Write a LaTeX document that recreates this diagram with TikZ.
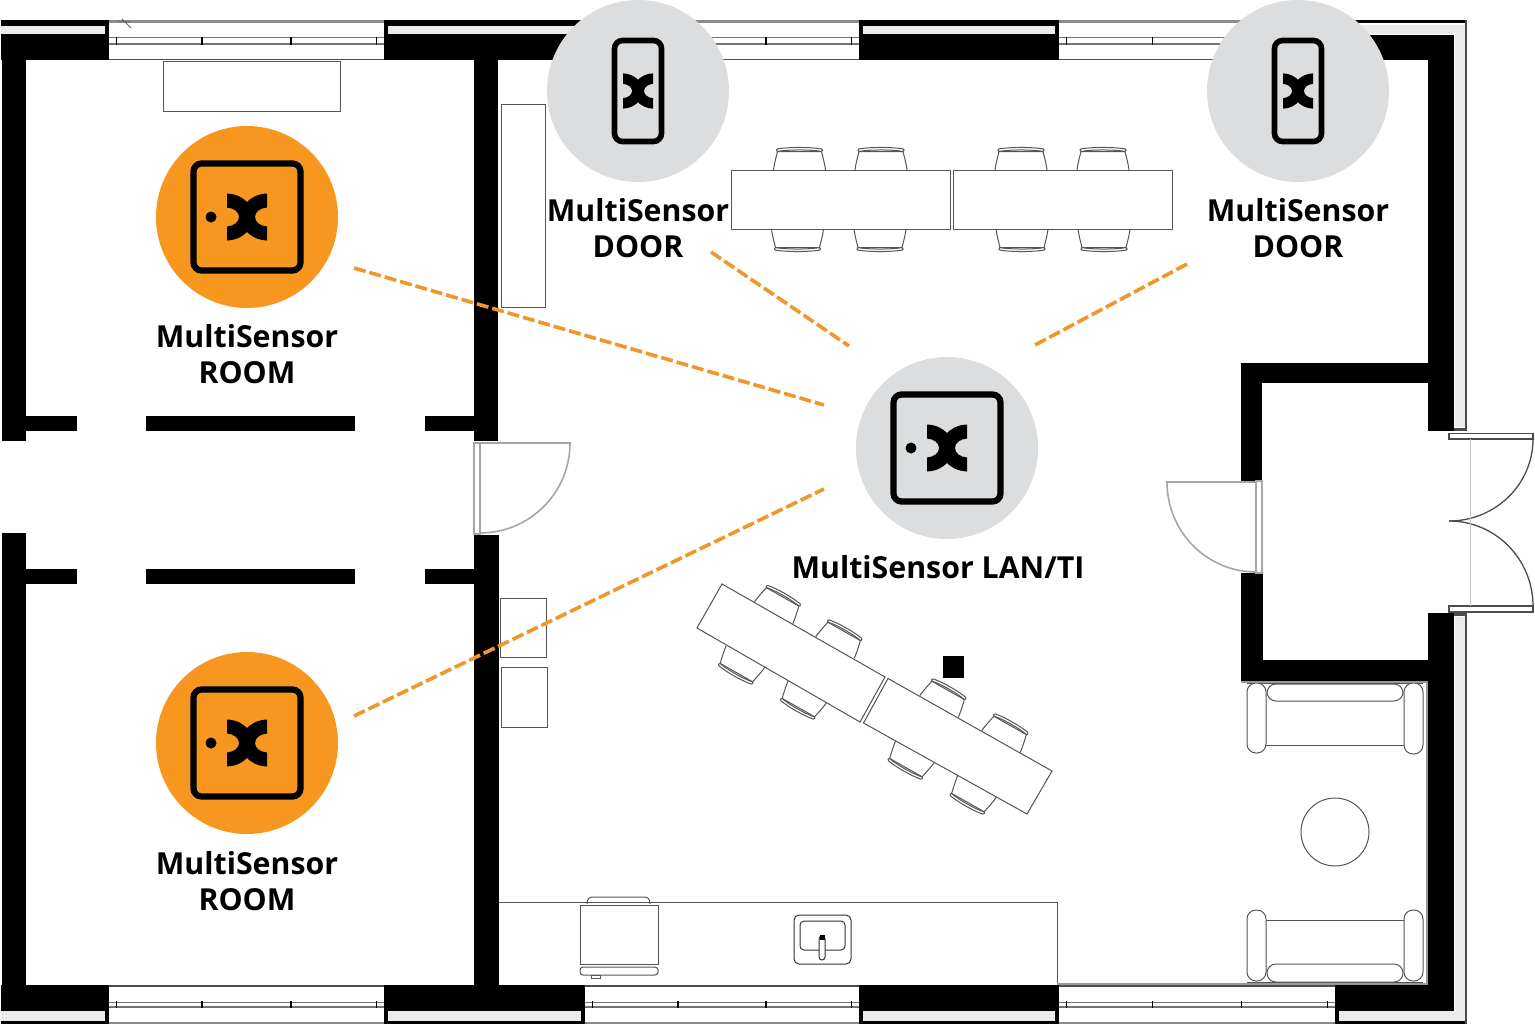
\documentclass[tikz,border=0pt]{standalone}
\usepackage{fontspec}
\setmainfont{Open Sans}
\definecolor{orangeC}{HTML}{F8971F}
\definecolor{dashC}{HTML}{F0962B}
\definecolor{greyC}{HTML}{DCDDDE}
\definecolor{stripC}{HTML}{EBEBEB}
\definecolor{furnC}{HTML}{555555}
\tikzset{
  wall/.style={fill=black,draw=none},
  strip/.style={fill=stripC,draw=none},
  furn/.style={draw=furnC,line width=1pt},
  doorline/.style={draw=black!35,line width=1.6pt},
  darkdoor/.style={draw=black!70,line width=1.3pt},
  link/.style={draw=dashC,line width=3.6pt,dash pattern=on 12pt off 4pt},
  lab/.style={font=\fontsize{30.3}{36}\selectfont\bfseries,align=center,inner sep=0pt,text=black},
  bubble/.style={circle,minimum size=182pt,inner sep=0pt,draw=none},
  logo/.pic={\fill[black] (-20,-23.5) .. controls (-10,-23) and (-4,-19) .. (0,-15) .. controls (4,-19) and (10,-23) .. (20,-23.5) -- (20,-9.5) .. controls (13,-9) and (8,-5) .. (8,0) .. controls (8,5) and (13,9) .. (20,9.5) -- (20,23.5) .. controls (10,23) and (4,19) .. (0,15) .. controls (-4,19) and (-10,23) .. (-20,23.5) -- (-20,9.5) .. controls (-13,9) and (-8,5) .. (-8,0) .. controls (-8,-5) and (-13,-9) .. (-20,-9.5) -- cycle;},
  squareicon/.pic={\draw[black,line width=6.2pt,rounded corners=8pt] (-53.5,-53.5) rectangle (53.5,53.5);
    \fill[black] (-36,0) circle (5.5);
    \pic at (0,0) {logo};},
  phoneicon/.pic={\draw[black,line width=5.6pt,rounded corners=8pt] (-23.5,-50.5) rectangle (23.5,50.5);
    \pic[scale=.75] at (0,0) {logo};},
  chair/.pic={
    \draw[furn,fill=white] (-26,0) .. controls (-25,-8) and (-23,-14) .. (-22,-18.5) -- (22,-18.5) .. controls (23,-14) and (25,-8) .. (26,0);
    \draw[furn,fill=white,rounded corners=1pt] (-23,-18.5) .. controls (-10,-20.5) and (10,-20.5) .. (23,-18.5) -- (23,-21) .. controls (10,-23) and (-10,-23) .. (-23,-21) -- cycle;},
  armrest/.style={furn,fill=white,rounded corners=9pt},
}
\newcommand{\topwin}[2]{%
  \fill[black!45] (#1,20) rectangle (#2,23);
  \fill[black!55] (#1,36.5) rectangle (#2,38);
  \fill[black!55] (#1,43) rectangle (#2,44.5);
  \fill[black!70] (#1,58.5) rectangle (#2,60);
  \fill[black] (#1-1.5,20) rectangle (#1+1,60);
  \fill[black] (#2-1,20) rectangle (#2+1.5,60);
  \foreach \t in {.03,.34,.66,.97} \fill[black] ({#1+\t*(#2-#1)-.7},37) rectangle ({#1+\t*(#2-#1)+.7},45);
}
\newcommand{\botwin}[2]{%
  \fill[black!70] (#1,985) rectangle (#2,987);
  \fill[black!55] (#1,1001.5) rectangle (#2,1003);
  \fill[black!55] (#1,1006) rectangle (#2,1007.5);
  \fill[black!45] (#1,1022) rectangle (#2,1024);
  \fill[black] (#1-1.5,985) rectangle (#1+1,1024);
  \fill[black] (#2-1,985) rectangle (#2+1.5,1024);
  \foreach \t in {.03,.34,.66,.97} \fill[black] ({#1+\t*(#2-#1)-.7},1001) rectangle ({#1+\t*(#2-#1)+.7},1008);
}
\begin{document}
\begin{tikzpicture}[x=1pt,y=-1pt]
\useasboundingbox (0,0) rectangle (1535,1028);
\fill[white] (0,0) rectangle (1535,1028);
% windows
\topwin{108}{385}\topwin{584}{860}\topwin{1058}{1336}
\botwin{108}{385}\botwin{584}{860}\botwin{1058}{1336}
\draw[black!60,line width=.8pt] (117,21) -- (130,22) (122,19) -- (131,28);
% top wall segments
\foreach \a/\b/\c in {1/108/1,385/584/388,860/1058/863}{
  \fill[wall] (\a,20) rectangle (\b,60);
  \fill[strip] (\c,26) rectangle (\b-3,34);
}
\fill[wall] (1336,20) rectangle (1467,23);
\fill[wall] (1336,35) rectangle (1454,60);
\fill[strip] (1338,25) rectangle (1465,34);
% bottom wall segments
\foreach \a/\b/\c in {1/108/1,385/584/388,860/1058/863}{
  \fill[wall] (\a,985) rectangle (\b,1024);
  \fill[strip] (\c,1011) rectangle (\b-3,1021);
}
\fill[wall] (1336,985) rectangle (1454,1011);
\fill[wall] (1336,985) rectangle (1339,1024);
\fill[wall] (1336,1021) rectangle (1467,1024);
\fill[strip] (1339,1011) rectangle (1465,1021);
% left wall
\fill[wall] (2,60) rectangle (26,441);
\fill[wall] (2,533) rectangle (26,985);
% interior wall
\fill[wall] (474,60) rectangle (498,441);
\fill[wall] (474,535) rectangle (499,985);
% partitions
\foreach \y in {416,569}{
  \fill[wall] (26,\y) rectangle (77,\y+15);
  \fill[wall] (146,\y) rectangle (355,\y+15);
  \fill[wall] (425,\y) rectangle (474,\y+15);
}
% right wall
\fill[wall] (1428,60) rectangle (1454,431);
\fill[wall] (1428,613) rectangle (1454,1011);
\fill[strip] (1455,34) rectangle (1465,427);
\fill[strip] (1455,617) rectangle (1465,1021);
\fill[black!70] (1465,20) rectangle (1467,431);
\fill[black!70] (1454,428) rectangle (1467,431);
\fill[black!70] (1454,613) rectangle (1467,616);
\fill[black!70] (1465,613) rectangle (1467,1024);
% small room
\fill[wall] (1241,363) rectangle (1428,383);
\fill[wall] (1241,363) rectangle (1262,481);
\fill[wall] (1241,573) rectangle (1263,682);
\fill[wall] (1241,660) rectangle (1428,682);
% doors
\draw[doorline] (474,443) rectangle (480,534);
\draw[doorline] (480,443) -- (570,443) arc[start angle=0,end angle=-90,x radius=90,y radius=-90];
\draw[doorline] (1256,481) rectangle (1262,573);
\draw[doorline] (1256,482) -- (1167,482) arc[start angle=180,end angle=270,x radius=89,y radius=-90];
\draw[darkdoor] (1449,433.5) rectangle (1533,439);
\draw[darkdoor] (1449,606) rectangle (1533,612);
\draw[darkdoor] (1533,439) arc[start angle=0,end angle=-90,x radius=84,y radius=-82];
\draw[darkdoor] (1533,606) arc[start angle=0,end angle=90,x radius=84,y radius=-85];
\draw[black!20,line width=.8pt] (1470,439) -- (1470,606);
% simple furniture
\draw[furn] (163,61) rectangle (340,111);
\draw[furn] (501,104) rectangle (545,307);
\draw[furn] (500,598) rectangle (546,657);
\draw[furn] (501,667) rectangle (547,727);
\fill[black] (943,656) rectangle (964,678);
% kitchen
\draw[furn] (499,902) -- (1057,902) -- (1057,984);
\draw[furn] (587,904) .. controls (587,899) and (589,897) .. (593,897) -- (644,897) .. controls (648,897) and (650,899) .. (650,904);
\draw[furn] (580,905) rectangle (658,964);
\draw[furn,rounded corners=3pt] (580,967) -- (580,975) -- (658,975) -- (658,967) -- cycle;
\draw[furn] (591,975) rectangle (600,978);
\draw[black!80,line width=1pt,rounded corners=5pt] (794,915) rectangle (851,964);
\draw[black!80,line width=1pt,rounded corners=4pt] (800,921) rectangle (845,950);
\draw[black!80,line width=1pt,rounded corners=3pt,fill=white] (819,936) rectangle (825,960);
\fill[black] (819.5,935) rectangle (824.5,940);
% dining table (straight)
\foreach \x in {799.5,881,1021,1103} \pic at (\x,170) {chair};
\foreach \x in {797.5,880,1022,1104} \pic[rotate=180] at (\x,229) {chair};
\draw[furn,fill=white] (731,170) rectangle (950,229);
\draw[furn,fill=white] (953,170) rectangle (1172,229);
% dining table (angled)
\foreach \x/\y in {773.5/613,835/647.5,939/706.5,1001/741.5} \pic[rotate=-29.5,xscale=.85] at (\x,\y) {chair};
\foreach \x/\y in {745.5/656.5,807.5/691.5,915/751.5,977/786.5} \pic[rotate=150.5,xscale=.85] at (\x,\y) {chair};
\draw[furn,fill=white] (722,584) -- (885,677) -- (860,722) -- (697,628) -- cycle;
\draw[furn,fill=white] (888,678.5) -- (1052,771) -- (1027,814) -- (863.5,723) -- cycle;
% sofas
\draw[furn] (1247,683) -- (1423,683);
\draw[furn] (1266,745) -- (1404,745);
\draw[armrest] (1247,683) rectangle (1266,753);
\draw[armrest] (1404,683) rectangle (1423,754);
\draw[armrest] (1267,684) rectangle (1403,701);
\draw[furn] (1247,982) -- (1423,982);
\draw[furn] (1266,920) -- (1404,920);
\draw[armrest] (1247,910) rectangle (1266,981);
\draw[armrest] (1404,910) rectangle (1423,981);
\draw[armrest] (1267,964) rectangle (1403,982);
\draw[furn] (1335,832) circle (34);
\draw[black!40,line width=1.2pt] (1241,682) -- (1427,682) -- (1427,984) -- (1057,984);
% sensors
\node[bubble,fill=greyC] (doorA) at (638,91) {};
\node[bubble,fill=greyC] (doorB) at (1298,91) {};
\node[bubble,fill=greyC] (hub) at (947,448) {};
\node[bubble,fill=orangeC] (roomA) at (247,217) {};
\node[bubble,fill=orangeC] (roomB) at (247,743) {};
\pic at (roomA.center) {squareicon};
\pic at (roomB.center) {squareicon};
\pic at (hub.center) {squareicon};
\pic at (doorA.center) {phoneicon};
\pic at (doorB.center) {phoneicon};
% labels
\node[lab] (roomAlab) at (247,354) {MultiSensor\\ROOM};
\node[lab] (roomBlab) at (247,881) {MultiSensor\\ROOM};
\node[lab] (doorAlab) at (638,228) {MultiSensor\\DOOR};
\node[lab] (doorBlab) at (1298,228) {MultiSensor\\DOOR};
\node[lab] (hublab) at (938,567) {MultiSensor LAN/TI};
% connectors
\coordinate (a1) at (354,268); \coordinate (a2) at (824,405);
\coordinate (b1) at (354,716); \coordinate (b2) at (824,489);
\coordinate (c1) at (711,252); \coordinate (c2) at (849,346);
\coordinate (d1) at (1187,264); \coordinate (d2) at (1035,345);
\draw[link] (a1) -- (a2);
\draw[link] (b1) -- (b2);
\draw[link] (c1) -- (c2);
\draw[link] (d1) -- (d2);
\end{tikzpicture}
\end{document}
